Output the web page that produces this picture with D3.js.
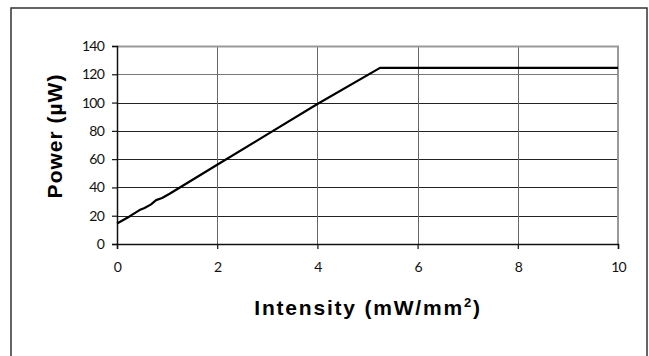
<!DOCTYPE html>
<html>
<head>
<meta charset="utf-8">
<script src="https://cdn.jsdelivr.net/npm/d3@7"></script>
<style>
  body { margin: 0; background: #fff; }
  svg { display: block; }
</style>
</head>
<body>
<div id="chart"></div>
<script>
// readings
var intensity = [0, 0.25, 0.45, 0.55, 0.68, 0.78, 0.9, 1.05, 2, 3, 4, 5.25, 10]
var power     = [14.5, 19.5, 24, 25.5, 28, 31, 32.5, 35.5, 56, 77.5, 99, 124.5, 124.5]
var xTicks = [0, 2, 4, 6, 8, 10]
var yTicks = [0, 20, 40, 60, 80, 100, 120, 140]

var width = 649
var height = 356
var margin = {top: 46, right: 31, bottom: 112, left: 117}

var svg = d3.select("#chart")
  .append("svg")
  .attr("width", width)
  .attr("height", height)

// outer frame (bottom edge runs off the picture)
svg.append("rect")
  .attr("x", 11).attr("y", 8)
  .attr("width", 636).attr("height", 360)
  .attr("fill", "none")
  .attr("stroke", "#333")
  .attr("stroke-width", 1.5)

var w = width - margin.left - margin.right
var h = height - margin.top - margin.bottom

var x = d3.scaleLinear().domain([0, 10]).range([0, w])
var y = d3.scaleLinear().domain([0, 140]).range([h, 0])

var g = svg.append("g").attr("transform", "translate(" + margin.left + "," + margin.top + ")")

// grid
g.append("g").selectAll("line")
  .data(yTicks.filter(function(d) { return d > 0 && d < 140 }))
  .enter().append("line")
    .attr("x1", 0).attr("x2", w)
    .attr("y1", function(d) { return Math.round(y(d)) + 0.5 })
    .attr("y2", function(d) { return Math.round(y(d)) + 0.5 })
    .attr("stroke", function(d) { return d == 120 ? "#777" : "#222" })
    .attr("stroke-width", 1)

g.append("g").selectAll("line")
  .data(xTicks.filter(function(d) { return d > 0 && d < 10 }))
  .enter().append("line")
    .attr("y1", 0).attr("y2", h)
    .attr("x1", function(d) { return Math.round(x(d)) + 0.5 })
    .attr("x2", function(d) { return Math.round(x(d)) + 0.5 })
    .attr("stroke", "#666")
    .attr("stroke-width", 1)

// plot area border top/right (grey)
g.append("path")
  .attr("d", "M0,0.5H" + w + "V" + h)
  .attr("fill", "none")
  .attr("stroke", "#999")
  .attr("stroke-width", 2)

// axes
var xAxis = g.append("g")
  .attr("transform", "translate(0," + h + ")")
  .call(d3.axisBottom(x).tickValues(xTicks).tickSize(5).tickPadding(13).tickFormat(d3.format("d")))
var yAxis = g.append("g")
  .call(d3.axisLeft(y).tickValues(yTicks).tickSize(5).tickPadding(8).tickFormat(d3.format("d")))

;[xAxis, yAxis].forEach(function(a) {
  a.select(".domain").attr("stroke", "#111").attr("stroke-width", 1.5)
  a.selectAll(".tick line").attr("stroke", "#111").attr("stroke-width", 1.2)
  a.selectAll("text")
    .attr("fill", "#111")
    .style("font-family", "Lato, sans-serif")
    .style("font-size", "14px")
    .style("letter-spacing", "-0.8px")
})

// curve
var line = d3.line()
  .x(function(d, i) { return x(intensity[i]) })
  .y(function(d) { return y(d) })

g.append("path")
  .datum(power)
  .attr("fill", "none")
  .attr("stroke", "#000")
  .attr("stroke-width", 2.2)
  .attr("stroke-linejoin", "round")
  .attr("d", line)

// titles
var xt = svg.append("text")
  .attr("x", 368)
  .attr("y", 315)
  .attr("text-anchor", "middle")
  .style("font-family", "'Liberation Sans', Arial, sans-serif")
  .style("font-weight", "bold")
  .style("font-size", "21px")
  .style("letter-spacing", "1.8px")
xt.append("tspan").text("Intensity (mW/mm")
xt.append("tspan").attr("dy", -8).style("font-size", "13px").text("2")
xt.append("tspan").attr("dy", 8).text(")")

svg.append("text")
  .attr("transform", "translate(62,136) rotate(-90)")
  .attr("text-anchor", "middle")
  .style("font-family", "'Liberation Sans', Arial, sans-serif")
  .style("font-weight", "bold")
  .style("font-size", "21px")
  .style("letter-spacing", "1px")
  .text("Power (µW)")
</script>
</body>
</html>
